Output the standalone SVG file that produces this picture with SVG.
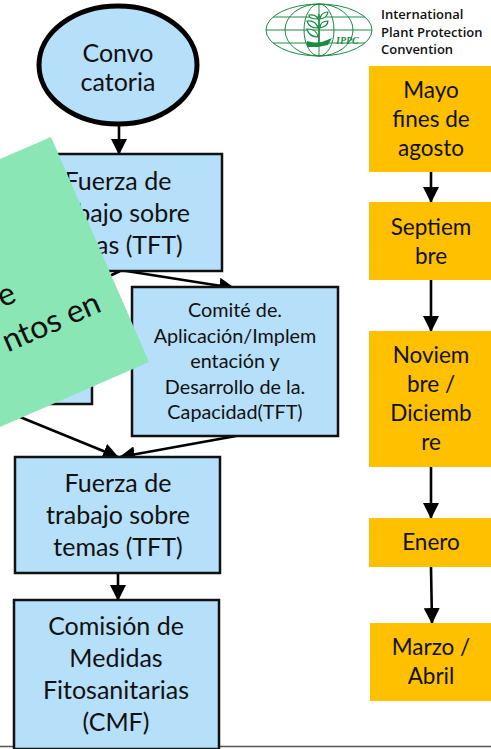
<svg xmlns="http://www.w3.org/2000/svg" width="491" height="749" viewBox="0 0 491 749">
<defs>
<marker id="arrow" markerUnits="userSpaceOnUse" markerWidth="16" markerHeight="16" refX="15" refY="8" orient="auto"><path d="M0,0 L16,8 L0,16 Z" fill="#000"/></marker>
</defs>
<style>
text{font-family:"Lato","Open Sans","Liberation Sans",sans-serif;fill:#111;text-anchor:middle}
.b{fill:#b6dff9;stroke:#111;stroke-width:2.5}
.o{fill:#ffc000}
.c{fill:none;stroke:#000;stroke-width:2.6;marker-end:url(#arrow)}
.n{fill:none;stroke:#000;stroke-width:2.6}
.t{font-size:25px}
.m{font-size:19.8px}
.y{font-size:22.5px}
.v{font-size:32px}
.g{fill:none;stroke:#1c8a45;stroke-width:1}
.l{font-family:"Open Sans","Liberation Sans",sans-serif;font-size:13px;font-weight:600;text-anchor:start}
</style>
<line x1="0" y1="746.500" x2="491" y2="746.500" stroke="#555" stroke-width="1.500"/>
<g id="connectors">
<path class="c" d="M119,124 V154"/>
<path class="c" d="M120,270 L234,288"/>
<path class="n" d="M120,271 L60,300"/>
<path class="c" d="M236,436 L120,457"/>
<path class="c" d="M20,417 L118,457"/>
<path class="c" d="M118,573 V600"/>
<path class="c" d="M431,172 V202"/>
<path class="c" d="M431,280 V331"/>
<path class="c" d="M431,467 V518"/>
<path class="c" d="M431,567 L432,623"/>
</g>
<g id="convocatoria"><ellipse cx="118" cy="65" rx="79" ry="59" fill="#b6dff9" stroke="#000" stroke-width="5"/><text class="t" x="118" y="62">Convo</text><text class="t" x="118" y="91">catoria</text></g>
<g id="tft1"><rect class="b" x="48" y="154" width="174" height="117"/><text class="t" x="118" y="190">Fuerza de</text><text class="t" x="118" y="222">trabajo sobre</text><text class="t" x="118" y="254">temas (TFT)</text></g>
<g id="left-box"><rect class="b" x="20" y="300" width="72" height="104"/></g>
<g id="comite"><rect class="b" x="132" y="287" width="206" height="149"/><g class="m"><text x="235" y="317">Comité de.</text><text x="235" y="343">Aplicación/Implem</text><text x="235" y="368">entación y</text><text x="235" y="394">Desarrollo de la.</text><text x="235" y="419">Capacidad(TFT)</text></g></g>
<g id="tft2"><rect class="b" x="15" y="457" width="205" height="116"/><text class="t" x="118" y="492">Fuerza de</text><text class="t" x="118" y="524">trabajo sobre</text><text class="t" x="118" y="556">temas (TFT)</text></g>
<g id="cmf"><rect class="b" x="14" y="600" width="205" height="149"/><text class="t" x="116" y="635">Comisión de</text><text class="t" x="116" y="667">Medidas</text><text class="t" x="116" y="699">Fitosanitarias</text><text class="t" x="116" y="731">(CMF)</text></g>
<g id="overlay"><polygon points="51,137 149,362 0,427 0,159" fill="#8ae6b5"/><text class="v" transform="translate(18,301) rotate(-23.500)" style="text-anchor:end">e</text><text class="v" transform="translate(103,311) rotate(-23.500)" style="text-anchor:end">ntos en</text></g>
<g id="mayo"><rect class="o" x="369" y="66" width="122" height="106"/><text class="y" x="431" y="98">Mayo</text><text class="y" x="431" y="127">fines de</text><text class="y" x="431" y="156">agosto</text></g>
<g id="septiembre"><rect class="o" x="369" y="202" width="122" height="78"/><text class="y" x="431" y="235">Septiem</text><text class="y" x="431" y="264">bre</text></g>
<g id="noviembre"><rect class="o" x="369" y="331" width="122" height="136"/><text class="y" x="431" y="363">Noviem</text><text class="y" x="431" y="392">bre /</text><text class="y" x="431" y="421">Diciemb</text><text class="y" x="431" y="450">re</text></g>
<g id="enero"><rect class="o" x="369" y="518" width="122" height="49"/><text class="y" x="431" y="550">Enero</text></g>
<g id="marzo"><rect class="o" x="370" y="623" width="121" height="78"/><text class="y" x="431" y="655">Marzo /</text><text class="y" x="431" y="684">Abril</text></g>
<g id="logo">
<ellipse class="g" cx="319" cy="30" rx="53" ry="26"/><ellipse class="g" cx="319" cy="30" rx="34" ry="26"/><ellipse class="g" cx="319" cy="30" rx="15" ry="26"/>
<path class="g" d="M266,30 H372 M273,17 H365 M273,43 H365 M319,4 V56"/>
<path d="M319,43 V14" stroke="#1c8a45" stroke-width="1.500" fill="none"/>
<path d="M318,19 Q309,19 309,15 Q316,14 318,19 Z M320,19 Q327,18 328,12 Q321,12 320,19 Z M318,28 Q309,28 307,21 Q316,20 318,28 Z M320,28 Q328,26 328,21 Q320,21 320,28 Z M318,37 Q309,37 307,29 Q317,29 318,37 Z" fill="#fff" stroke="#1c8a45" stroke-width="1.200"/>
<path d="M307,41 L315,43 L322,42 L332,38 L328,45 L318,47 L307,47 Z" fill="#1c8a45"/>
<text x="336" y="44" style="font-family:'Liberation Serif',serif;font-style:italic;font-weight:bold;font-size:10px;fill:#1c8a45;text-anchor:start">IPPC</text>
<text class="l" x="381" y="19">International</text><text class="l" x="381" y="37">Plant Protection</text><text class="l" x="381" y="54">Convention</text>
</g>
</svg>
